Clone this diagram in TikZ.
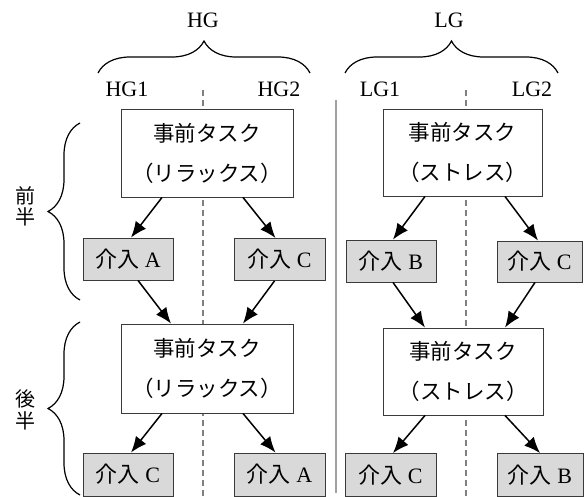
\documentclass[tikz,border=0pt]{standalone}
\usepackage{fontspec}
\setmainfont{Liberation Serif}
\newfontfamily\jp{Noto Sans CJK JP}
\usetikzlibrary{arrows.meta,calc,decorations.pathreplacing}
\definecolor{boxgray}{HTML}{D9D9D9}
\definecolor{edge}{HTML}{3A3A3A}
\definecolor{dashgray}{HTML}{808080}
\definecolor{solidgray}{HTML}{A0A0A0}
\begin{document}
\begin{tikzpicture}[x=1pt,y=-1pt,
  txt/.style={font=\fontsize{22}{26}\selectfont, inner sep=0pt},
  taskbox/.style={draw=edge, line width=0.9pt, fill=white, align=center,
     font=\fontsize{21.5}{40}\selectfont, inner sep=0pt},
  intbox/.style={draw=edge, line width=0.9pt, fill=boxgray, inner sep=0pt,
     font=\fontsize{22}{26}\selectfont, minimum height=42},
  arr/.style={line width=1.5pt, -{Latex[length=16pt,width=13pt]}},
  grpbrace/.style={decorate, decoration={brace, amplitude=32pt}, line width=1.2pt},
  divdash/.style={dashgray, line width=1.2pt, dash pattern=on 6pt off 4pt},
  divsolid/.style={solidgray, line width=1.6pt}
]
\useasboundingbox (0,0) rectangle (584,497);

% dividers
\coordinate (dh1) at (203,90); \coordinate (dh2) at (203,497);
\coordinate (dl1) at (466,90); \coordinate (dl2) at (466,497);
\coordinate (s1) at (336,100); \coordinate (s2) at (336,493);
\draw[divdash] (dh1) -- (dh2);
\draw[divdash] (dl1) -- (dl2);
\draw[divsolid] (s1) -- (s2);

% group labels and braces
\node[txt] (HG) at (203,20) {HG};
\node[txt] (LG) at (449,20) {LG};
\coordinate (bh1) at (98,73); \coordinate (bh2) at (310,73);
\coordinate (bl1) at (345,73); \coordinate (bl2) at (558,73);
\draw[grpbrace] (bh1) -- (bh2);
\draw[grpbrace] (bl1) -- (bl2);
\node[txt] (HG1) at (127,89) {HG1};
\node[txt] (HG2) at (279,89) {HG2};
\node[txt] (LG1) at (380,89) {LG1};
\node[txt] (LG2) at (532,89) {LG2};

% side braces
\coordinate (f1) at (80,300); \coordinate (f2) at (80,123);
\coordinate (k1) at (80,495); \coordinate (k2) at (80,322);
\draw[grpbrace] (f1) -- (f2);
\draw[grpbrace] (k1) -- (k2);
\node[txt, align=center, font=\fontsize{20}{21}\selectfont\jp] (zen) at (26,206) {前\\半};
\node[txt, align=center, font=\fontsize{20}{22}\selectfont\jp] (kou) at (26,410) {後\\半};

% HG boxes
\node[taskbox, minimum width=172, minimum height=88] (h1) at (207,153) {{\jp 事前タスク}\\{\jp （リラックス）}};
\node[intbox, minimum width=90] (ha) at (128,259) {{\jp 介入} A};
\node[intbox, minimum width=91] (hc) at (279.5,259.5) {{\jp 介入} C};
\node[taskbox, minimum width=172, minimum height=89] (h2) at (207,368.5) {{\jp 事前タスク}\\{\jp （リラックス）}};
\node[intbox, minimum width=90, minimum height=43] (hc2) at (128,474.5) {{\jp 介入} C};
\node[intbox, minimum width=91, minimum height=43] (ha2) at (279.5,474.5) {{\jp 介入} A};

% LG boxes
\node[taskbox, minimum width=159, minimum height=87] (l1) at (462.5,152.5) {{\jp 事前タスク}\\{\jp （ストレス）}};
\node[intbox, minimum width=90] (lb) at (391,261) {{\jp 介入} B};
\node[intbox, minimum width=85, minimum height=41] (lc) at (539.5,261.5) {{\jp 介入} C};
\node[taskbox, minimum width=160, minimum height=87] (l2) at (463,371.5) {{\jp 事前タスク}\\{\jp （ストレス）}};
\node[intbox, minimum width=91, minimum height=43] (lc2) at (390.5,475) {{\jp 介入} C};
\node[intbox, minimum width=86, minimum height=43] (lb2) at (540,475) {{\jp 介入} B};

% HG arrows
\draw[arr] ($(h1.south)+(-45,0)$) -- ($(ha.north)+(3,0)$);
\draw[arr] ($(h1.south)+(36,0)$) -- ($(hc.north)+(-4,0)$);
\draw[arr] ($(ha.south)+(10,0)$) -- ($(h2.north)+(-36,0)$);
\draw[arr] ($(hc.south)+(-5,0)$) -- ($(h2.north)+(36,0)$);
\draw[arr] ($(h2.south)+(-45,0)$) -- ($(hc2.north)+(3,0)$);
\draw[arr] ($(h2.south)+(36,0)$) -- ($(ha2.north)+(-4,0)$);

% LG arrows
\draw[arr] ($(l1.south)+(-37.5,0)$) -- ($(lb.north)+(2,0)$);
\draw[arr] ($(l1.south)+(42.5,0)$) -- ($(lc.north)+(-1.5,0)$);
\draw[arr] ($(lb.south)+(2,0)$) -- ($(l2.north)+(-38,0)$);
\draw[arr] ($(lc.south)+(-4.5,0)$) -- ($(l2.north)+(42,0)$);
\draw[arr] ($(l2.south)+(-38,0)$) -- ($(lc2.north)+(2.5,0)$);
\draw[arr] ($(l2.south)+(42,0)$) -- ($(lb2.north)+(0,0)$);
\end{tikzpicture}
\end{document}
